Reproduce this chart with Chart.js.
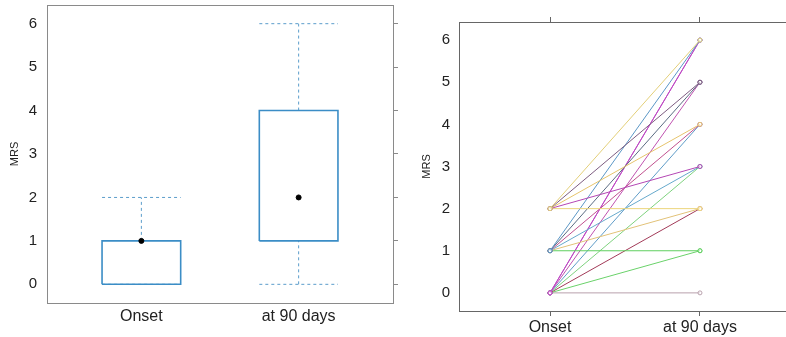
<!DOCTYPE html>
<html>
<head>
<meta charset="utf-8">
<script src="https://cdn.jsdelivr.net/npm/chart.js@4.4.1/dist/chart.umd.min.js"></script>
<style>
html, body { margin: 0; padding: 0; background: #fff; overflow: hidden; width: 786px; height: 337px; }
#w1 { position: absolute; left: 0; top: 0; width: 400px; height: 337px; }
#w2 { position: absolute; left: 400px; top: 0; width: 400px; height: 337px; }
</style>
</head>
<body>
<div id="w1"><canvas id="myChart1"></canvas></div>
<div id="w2"><canvas id="myChart2"></canvas></div>
<script>
const categories = ['Onset', 'at 90 days'];
const yTicks = [0, 1, 2, 3, 4, 5, 6];

// box plot stats, one entry per category
const boxMin = [0, 0];
const boxQ1 = [0, 1];
const boxMedian = [1, 2];
const boxQ3 = [1, 4];
const boxMax = [2, 6];

// one line per patient: MRS at onset -> MRS at 90 days
const onsetScore = [2, 2, 2, 2, 2, 1, 1, 1, 1, 1, 1, 0, 0, 0, 0, 0, 0, 0, 0];
const day90Score = [6, 5, 4, 3, 2, 6, 5, 4, 3, 2, 1, 6, 5, 4, 3, 2, 1, 0, 6];
const lineColors = [
  '#e3cf78', '#7d5c80', '#e6c46c', '#b447b4', '#ecd57c',
  '#5b97c6', '#5b6b82', '#c0508e', '#66a9cc', '#e2c278', '#5fcf5f',
  '#c445c4', '#c052b0', '#5f9cc8', '#7ed27e', '#a23a58', '#6ad26a', '#b8a0ac', '#a84cc0'
];

Chart.defaults.font.family = '"Liberation Sans", Arial, sans-serif';
Chart.defaults.color = '#222';

const frame = {
  id: 'frame',
  afterDraw(chart, args, opts) {
    const a = chart.chartArea, c = chart.ctx;
    c.save();
    c.strokeStyle = opts.color;
    c.lineWidth = 1;
    c.strokeRect(Math.round(a.left) + 0.5, Math.round(a.top) + 0.5,
      Math.round(a.right - a.left), Math.round(a.bottom - a.top));
    c.restore();
  }
};

const catTicks = ax => { ax.ticks = categories.map((c, i) => ({ value: i })); };
const mrsTicks = ax => { ax.ticks = yTicks.map(v => ({ value: v })); };
const fixSize = (w, h) => ax => {
  if (w !== null) ax.width = w;
  if (h !== null) ax.height = h;
  ax.paddingTop = 0; ax.paddingBottom = 0; ax.paddingLeft = 0; ax.paddingRight = 0;
};

// -------------------------- box plot -------------------------------- //
const boxColor = '#3b8dc6';
const whiskerColor = '#5c9dcb';
const hw = 0.25;
const boxSets = [];
categories.forEach((c, i) => {
  const dashed = { borderColor: whiskerColor, borderWidth: 1, borderDash: [3, 3], pointRadius: 0, showLine: true, order: 2 };
  boxSets.push({ ...dashed, data: [{ x: i, y: boxQ3[i] }, { x: i, y: boxMax[i] }] });
  boxSets.push({ ...dashed, data: [{ x: i - hw, y: boxMax[i] }, { x: i + hw, y: boxMax[i] }] });
  boxSets.push({ ...dashed, data: [{ x: i, y: boxMin[i] }, { x: i, y: boxQ1[i] }] });
  boxSets.push({ ...dashed, data: [{ x: i - hw, y: boxMin[i] }, { x: i + hw, y: boxMin[i] }] });
  boxSets.push({
    borderColor: boxColor, borderWidth: 1.6, pointRadius: 0, showLine: true, order: 1,
    data: [
      { x: i - hw, y: boxQ1[i] }, { x: i + hw, y: boxQ1[i] },
      { x: i + hw, y: boxQ3[i] }, { x: i - hw, y: boxQ3[i] }, { x: i - hw, y: boxQ1[i] }
    ]
  });
  boxSets.push({
    data: [{ x: i, y: boxMedian[i] }], pointRadius: 2.5, showLine: false, order: 0,
    pointBackgroundColor: '#000', pointBorderColor: '#000'
  });
});

const ctx1 = document.getElementById('myChart1');
const myChart1 = new Chart(ctx1, {
  type: 'scatter',
  data: { datasets: boxSets },
  plugins: [frame],
  options: {
    responsive: true,
    maintainAspectRatio: false,
    animation: false,
    layout: { padding: { top: 5 } },
    plugins: { legend: { display: false }, tooltip: { enabled: false }, frame: { color: '#8a8a8a' } },
    scales: {
      x: {
        type: 'linear', min: -0.6, max: 1.6,
        afterBuildTicks: catTicks,
        ticks: { callback: v => categories[v], font: { size: 16 }, padding: 4, maxRotation: 0 },
        grid: { display: false, drawTicks: false }, border: { display: false },
        afterFit: fixSize(null, 34)
      },
      y: {
        min: -0.43, max: 6.43,
        afterBuildTicks: mrsTicks,
        ticks: { font: { size: 15 }, padding: 10 },
        grid: { display: false, drawTicks: false }, border: { display: false },
        title: { display: true, text: 'MRS', font: { size: 11 }, padding: { top: 8, bottom: 0 } },
        afterFit: fixSize(47, null)
      },
      y2: {
        position: 'right', min: -0.43, max: 6.43,
        afterBuildTicks: mrsTicks,
        ticks: { display: false },
        grid: { drawOnChartArea: false, tickLength: 5, color: '#8a8a8a' }, border: { display: false },
        afterFit: fixSize(7, null)
      }
    }
  }
});

// -------------------------- spaghetti plot -------------------------------- //
const ctx2 = document.getElementById('myChart2');
const myChart2 = new Chart(ctx2, {
  type: 'line',
  data: {
    datasets: onsetScore.map((v, i) => ({
      data: [{ x: 0, y: v }, { x: 1, y: day90Score[i] }],
      borderColor: lineColors[i],
      borderWidth: 1,
      pointRadius: 2,
      pointBorderWidth: 1,
      pointBorderColor: lineColors[i],
      pointBackgroundColor: 'rgba(255,255,255,0.6)'
    }))
  },
  plugins: [frame],
  options: {
    responsive: true,
    maintainAspectRatio: false,
    animation: false,
    layout: { padding: { right: 9 } },
    plugins: { legend: { display: false }, tooltip: { enabled: false }, frame: { color: '#666' } },
    scales: {
      x: {
        type: 'linear', min: -0.607, max: 1.607,
        afterBuildTicks: catTicks,
        ticks: { callback: v => categories[v], font: { size: 16 }, padding: 2, maxRotation: 0 },
        grid: { drawOnChartArea: false, tickLength: 5, color: '#666' }, border: { display: false },
        afterFit: fixSize(null, 26)
      },
      x2: {
        type: 'linear', position: 'top', min: -0.607, max: 1.607,
        afterBuildTicks: catTicks,
        ticks: { display: false },
        grid: { drawOnChartArea: false, tickLength: 5, color: '#666' }, border: { display: false },
        afterFit: fixSize(null, 22)
      },
      y: {
        min: -0.43, max: 6.43,
        afterBuildTicks: mrsTicks,
        ticks: { font: { size: 15 }, padding: 9 },
        grid: { display: false, drawTicks: false }, border: { display: false },
        title: { display: true, text: 'MRS', font: { size: 11 }, padding: { top: 20, bottom: 0 } },
        afterFit: fixSize(59, null)
      }
    }
  }
});
</script>
</body>
</html>
